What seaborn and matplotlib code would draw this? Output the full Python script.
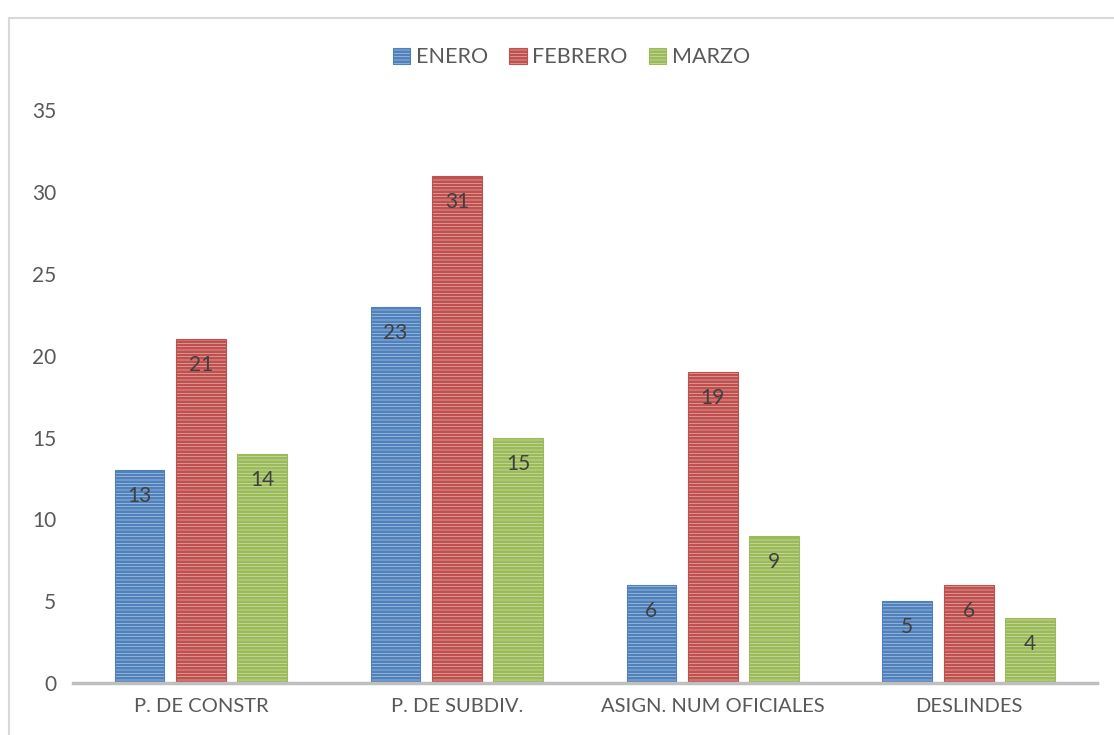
import matplotlib
matplotlib.use("Agg")
import matplotlib.pyplot as plt
import seaborn as sns
import pandas as pd
from matplotlib.patches import Rectangle

categorias = ["P. DE CONSTR", "P. DE SUBDIV.", "ASIGN. NUM OFICIALES", "DESLINDES"]
meses = ["ENERO", "FEBRERO", "MARZO"]
enero = [13, 23, 6, 5]
febrero = [21, 31, 19, 6]
marzo = [14, 15, 9, 4]
yticks = [0, 5, 10, 15, 20, 25, 30, 35]

colores = ["#4F81BD", "#C0504D", "#9BBB59"]
claros = ["#C9D7EA", "#ECC9C8", "#DDE8C8"]

df = pd.DataFrame({
    "cat": categorias * 3,
    "mes": [m for m in meses for _ in categorias],
    "val": enero + febrero + marzo,
})

sns.set_theme(style="white")
plt.rcParams["font.family"] = ["Lato", "DejaVu Sans"]
plt.rcParams["hatch.linewidth"] = 2.0

fig = plt.figure(figsize=(11.14, 7.35), dpi=100)
ax = fig.add_axes([0.0655, 0.0707, 0.919, 0.7793])

sns.barplot(data=df, x="cat", y="val", hue="mes", order=categorias, hue_order=meses,
            palette=colores, width=0.72, gap=0.19, ax=ax, legend=False)

# horizontal stripes like the original fill
for i, cont in enumerate(ax.containers):
    for bar in cont:
        bar.set_facecolor(claros[i])
        bar.set_edgecolor(colores[i])
        bar.set_hatch("-----")
        bar.set_linewidth(0.8)
    ax.bar_label(cont, padding=-26, fontsize=15, color="#404040")

ax.set_ylim(0, 35)
ax.set_xlim(-0.5, 3.5)
ax.set_yticks(yticks)
ax.set_xlabel("")
ax.set_ylabel("")
ax.tick_params(axis="both", labelsize=14.5, colors="#595959", length=0)
ax.tick_params(axis="y", labelsize=15, pad=12)
ax.tick_params(axis="x", pad=11)
for s in ["top", "right", "left"]:
    ax.spines[s].set_visible(False)
ax.spines["bottom"].set_color("#BFBFBF")
ax.spines["bottom"].set_linewidth(2.5)

handles = [Rectangle((0, 0), 1, 1, facecolor=claros[i], edgecolor=colores[i],
                     hatch="-----", linewidth=0.8) for i in range(3)]
fig.legend(handles, meses, loc="center", bbox_to_anchor=(0.513, 0.922), ncol=3,
           frameon=False, fontsize=15.5, labelcolor="#595959", handlelength=0.8,
           handleheight=0.8, handletextpad=0.25, columnspacing=1.0)

# outer chart border
fig.add_artist(plt.Line2D([0.0085, 1.0], [0.9755, 0.9755], color="#D9D9D9", lw=1.5,
                          transform=fig.transFigure))
fig.add_artist(plt.Line2D([0.0085, 0.0085], [0.0, 0.9755], color="#D9D9D9", lw=1.5,
                          transform=fig.transFigure))

fig.savefig("out.png", dpi=100)
